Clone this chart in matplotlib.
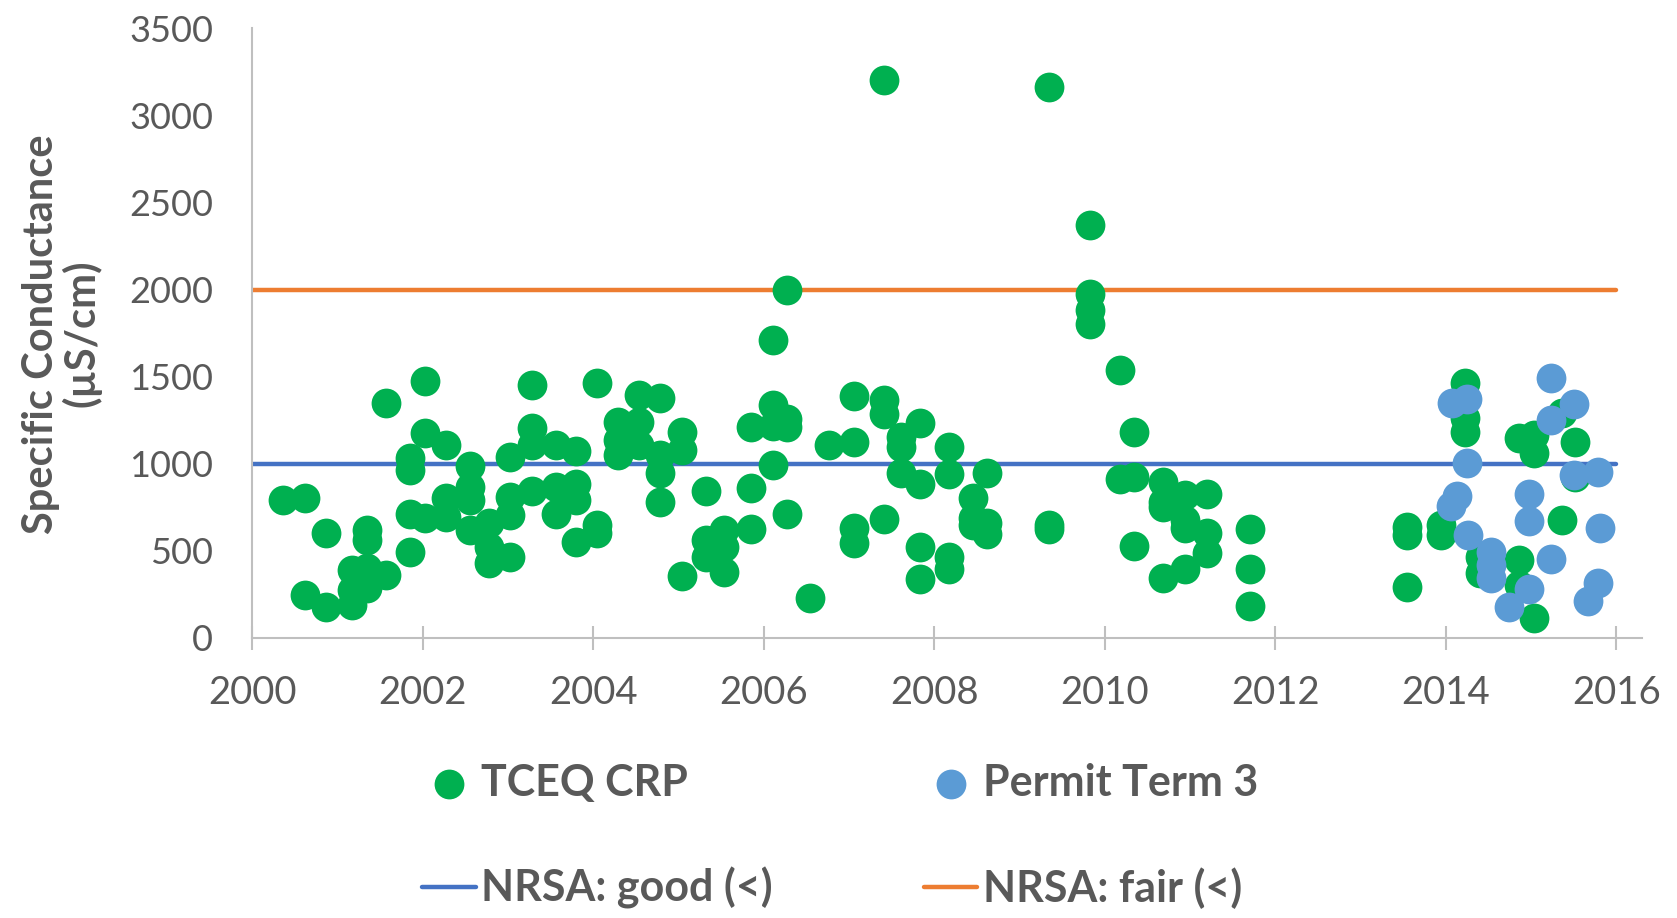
import matplotlib
matplotlib.use("Agg")
import matplotlib.pyplot as plt

# TCEQ CRP samples (decimal year, specific conductance uS/cm)
tceq_years = [
    2000.36, 2000.62, 2000.62, 2000.87, 2000.87, 2001.17, 2001.17, 2001.17,
    2001.35, 2001.35, 2001.35, 2001.35, 2001.57, 2001.57, 2001.85, 2001.85,
    2001.85, 2001.85, 2002.03, 2002.03, 2002.03, 2002.27, 2002.27, 2002.27,
    2002.56, 2002.56, 2002.56, 2002.56, 2002.78, 2002.78, 2002.78, 2003.02,
    2003.02, 2003.02, 2003.02, 2003.28, 2003.28, 2003.28, 2003.28, 2003.56,
    2003.56, 2003.56, 2003.80, 2003.80, 2003.80, 2003.80, 2004.05, 2004.05,
    2004.05, 2004.29, 2004.29, 2004.29, 2004.54, 2004.54, 2004.54, 2004.79,
    2004.79, 2004.79, 2004.79, 2005.04, 2005.04, 2005.04, 2005.33, 2005.33,
    2005.33, 2005.54, 2005.54, 2005.54, 2005.85, 2005.85, 2005.85, 2006.11,
    2006.11, 2006.11, 2006.11, 2006.27, 2006.27, 2006.27, 2006.27, 2006.54,
    2006.77, 2007.06, 2007.06, 2007.06, 2007.06, 2007.41, 2007.41, 2007.41,
    2007.41, 2007.61, 2007.61, 2007.61, 2007.84, 2007.84, 2007.84, 2007.84,
    2008.17, 2008.17, 2008.17, 2008.17, 2008.46, 2008.46, 2008.46, 2008.62,
    2008.62, 2008.62, 2009.35, 2009.35, 2009.35, 2009.83, 2009.83, 2009.83,
    2009.83, 2010.18, 2010.18, 2010.35, 2010.35, 2010.35, 2010.69, 2010.69,
    2010.69, 2010.69, 2010.94, 2010.94, 2010.94, 2010.94, 2011.20, 2011.20,
    2011.20, 2011.70, 2011.70, 2011.70, 2013.55, 2013.55, 2013.55, 2013.95,
    2013.95, 2014.23, 2014.23, 2014.23, 2014.40, 2014.40, 2014.86, 2014.86,
    2014.86, 2015.03, 2015.03, 2015.03, 2015.37, 2015.37, 2015.52, 2015.52,
]
tceq_vals = [
    791, 804, 245, 599, 178, 188, 389, 274,
    618, 561, 398, 283, 360, 1346, 1030, 963,
    708, 490, 1476, 1174, 685, 1107, 800, 695,
    986, 867, 791, 618, 657, 523, 427, 1040,
    810, 705, 465, 1451, 1202, 1107, 842, 1107,
    867, 708, 1072, 886, 791, 551, 1465, 647,
    603, 1241, 1136, 1049, 1394, 1241, 1107, 1375,
    1049, 944, 781, 1183, 1078, 354, 842, 561,
    466, 618, 523, 379, 1212, 858, 624, 1710,
    1336, 1216, 992, 1997, 1254, 1212, 708, 230,
    1110, 1388, 1122, 628, 542, 3203, 1365, 1288,
    681, 1155, 1097, 944, 1231, 881, 523, 337,
    1097, 940, 465, 392, 800, 690, 650, 944,
    660, 595, 3162, 650, 625, 2370, 1972, 1882,
    1802, 1537, 910, 1183, 925, 529, 896, 781,
    752, 345, 820, 676, 628, 393, 823, 603,
    489, 622, 393, 184, 638, 590, 293, 647,
    590, 1461, 1260, 1183, 465, 373, 446, 302,
    1145, 1164, 1059, 111, 676, 1289, 1126, 925,
]

# Permit Term 3 samples
permit_years = [
    2015.24, 2015.50, 2015.24, 2014.07, 2014.25, 2014.25, 2014.13, 2014.06,
    2014.26, 2014.53, 2014.53, 2014.53, 2014.74, 2014.98, 2014.98, 2014.98,
    2015.24, 2015.50, 2015.79, 2015.81, 2015.79, 2015.67,
]
permit_vals = [
    1493, 1340, 1250, 1346, 1369, 1001, 814, 756,
    590, 494, 417, 341, 178, 823, 670, 278,
    450, 935, 954, 628, 312, 213,
]

# NRSA thresholds
line_years = [2000, 2016]
good_vals = [1000, 1000]
fair_vals = [2000, 2000]

grey = "#595959"
plt.rcParams["font.family"] = ["Lato", "DejaVu Sans"]

fig = plt.figure(figsize=(16.77, 9.18), dpi=100)
ax = fig.add_axes([0.1503, 0.3053, 0.8287, 0.6637])

l_good, = ax.plot(line_years, good_vals, color="#4472C4", lw=3.2, zorder=1,
                  solid_capstyle="round", label="NRSA: good (<)")
l_fair, = ax.plot(line_years, fair_vals, color="#ED7D31", lw=3.2, zorder=1,
                  solid_capstyle="round", label="NRSA: fair (<)")
s_tceq = ax.scatter(tceq_years, tceq_vals, s=460, color="#00B050", lw=0,
                    zorder=2, label="TCEQ CRP")
s_perm = ax.scatter(permit_years, permit_vals, s=460, color="#5B9BD5", lw=0,
                    zorder=3, label="Permit Term 3")

ax.set_xlim(2000, 2016.3)
ax.set_ylim(0, 3500)
ax.set_xticks(range(2000, 2017, 2))
ax.set_yticks(range(0, 3501, 500))

for side in ["top", "right"]:
    ax.spines[side].set_visible(False)
for side in ["left", "bottom"]:
    ax.spines[side].set_color("#BFBFBF")
    ax.spines[side].set_linewidth(1.5)

ax.tick_params(axis="x", direction="inout", length=17, width=1.5,
               color="#BFBFBF", labelsize=27.5, labelcolor=grey, pad=18)
ax.tick_params(axis="y", length=0, labelsize=26, labelcolor=grey, pad=28)

fig.text(0.0367, 0.6365, "Specific Conductance\n(µS/cm)", rotation=90,
         ha="center", va="center", fontsize=30, fontweight="bold",
         color=grey, linespacing=1.05, multialignment="center")

fig.legend([s_tceq, l_good, s_perm, l_fair],
           ["TCEQ CRP", "NRSA: good (<)", "Permit Term 3", "NRSA: fair (<)"],
           ncol=2, loc="center left", bbox_to_anchor=(0.2516, 0.0893),
           frameon=False, borderpad=0, borderaxespad=0,
           prop={"weight": "bold", "size": 31}, labelcolor=grey,
           handlelength=1.25, handletextpad=0.13, columnspacing=3.5,
           labelspacing=1.5, scatterpoints=1)

fig.savefig("out.png", dpi=100)
